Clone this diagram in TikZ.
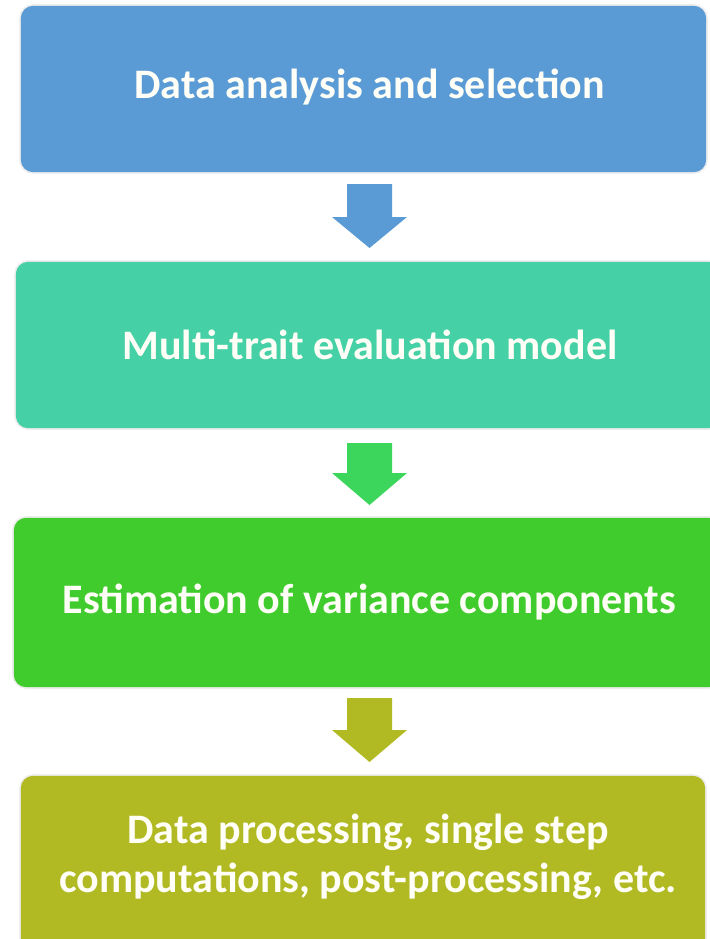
\documentclass[tikz,border=0pt]{standalone}
\usepackage{fontspec}
\setmainfont{Carlito}
\usetikzlibrary{calc}
\definecolor{stepblue}{HTML}{5B9BD5}
\definecolor{stepteal}{HTML}{45D0A5}
\definecolor{stepgreen}{HTML}{40CC2C}
\definecolor{stepolive}{HTML}{B1BA22}
\definecolor{arrowgreen}{HTML}{3DD65C}
\tikzset{
  stagebox/.style={rounded corners=13pt, draw=black!7, line width=1.2pt},
  stagetext/.style={text=white!97!yellow, font=\fontsize{42}{49}\selectfont\bfseries, align=center, inner sep=0pt},
  blockarrow/.style={draw=none}
}
% block arrow from a top-centre coordinate to a tip coordinate
\newcommand\downblock[4]{% colour, top, tip, head base depth below top
  \fill[blockarrow,#1] ($(#2)+(-22.5,0)$) -- ($(#2)+(22.5,0)$) -- ($(#2)+(22.5,#4)$)
    -- ($(#2)+(37.5,#4)$) -- (#3) -- ($(#2)+(-37.5,#4)$) -- ($(#2)+(-22.5,#4)$) -- cycle;}
\begin{document}
\begin{tikzpicture}[x=1pt,y=-1pt]
\useasboundingbox (0,0) rectangle (709,939);
\fill[white] (0,0) rectangle (709,939);
% stage boxes
\fill[stagebox,fill=stepblue]  (20,5)   rectangle (707,173);
\fill[stagebox,fill=stepteal]  (15,261) rectangle (722,429);
\fill[stagebox,fill=stepgreen] (13,517) rectangle (722,688);
\fill[stagebox,fill=stepolive] (20,775) rectangle (706,955);
\draw[stagebox] (20,5)   rectangle (707,173);
\draw[stagebox] (15,261) rectangle (722,429);
\draw[stagebox] (13,517) rectangle (722,688);
\draw[stagebox] (20,775) rectangle (706,955);
% labels
\node[stagetext] (s1) at (369.5,87)  {Data analysis and selection};
\node[stagetext] (s2) at (370,345)   {Multi-trait evaluation model};
\node[stagetext] (s3) at (369.5,602) {Estimation of variance components};
\node[stagetext] (s4) at (368,857) {Data processing, single step\\computations, post-processing, etc.};
% arrows between stages
\coordinate (t1) at (369.5,184); \coordinate (p1) at (369.5,248);
\coordinate (t2) at (369.5,443); \coordinate (p2) at (369.5,505);
\coordinate (t3) at (369.5,698); \coordinate (p3) at (369.5,762);
\downblock{stepblue}{t1}{p1}{33}
\downblock{arrowgreen}{t2}{p2}{30}
\downblock{stepolive}{t3}{p3}{32}
\end{tikzpicture}
\end{document}
